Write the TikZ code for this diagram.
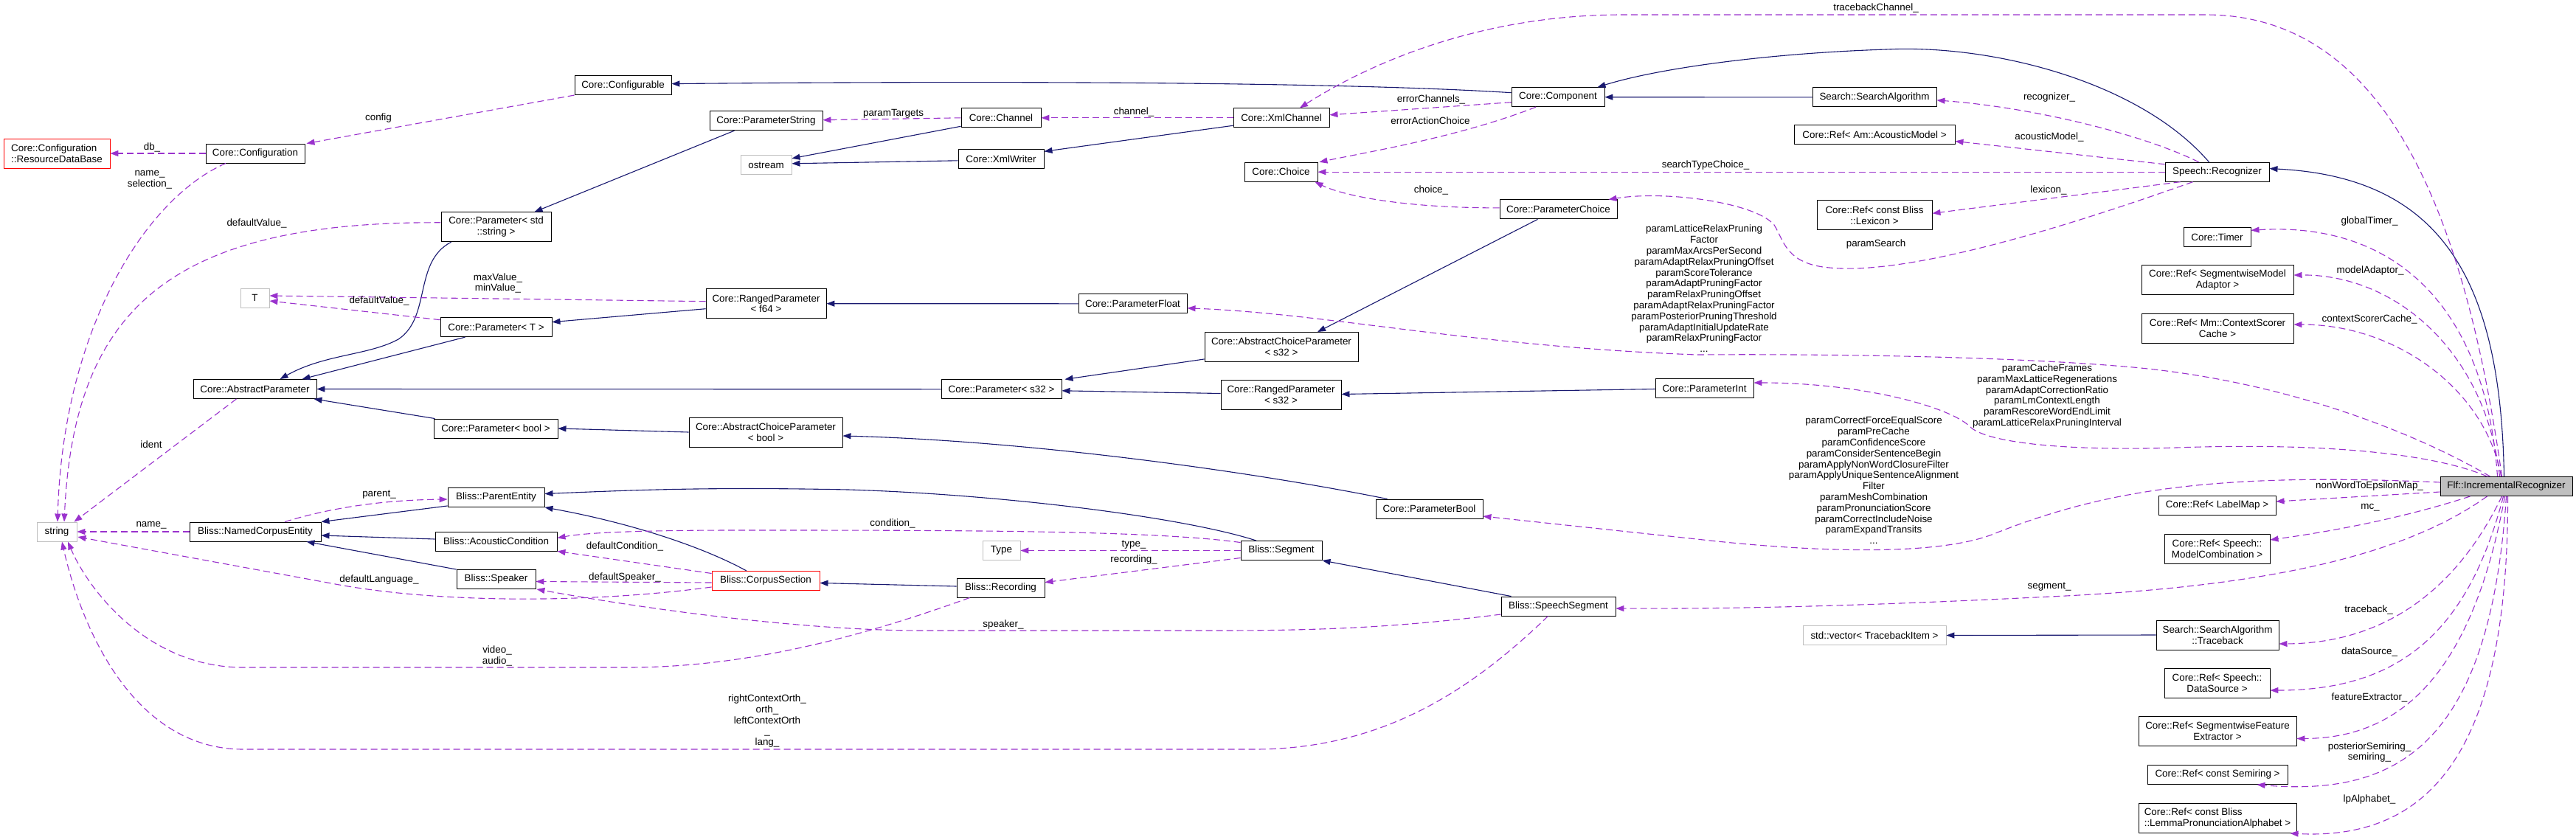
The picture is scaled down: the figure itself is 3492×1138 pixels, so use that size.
\documentclass[tikz,border=0pt]{standalone}
\usepackage{fontspec}
\setmainfont{Liberation Sans}
\usetikzlibrary{arrows.meta,calc}
\definecolor{inhc}{HTML}{191970}
\definecolor{usec}{HTML}{9A32CD}
\definecolor{extc}{HTML}{BFBFBF}
\newcommand\dxf{\fontsize{13.4}{14.8}\selectfont}
\begin{document}
\begin{tikzpicture}[x=1pt,y=-1pt,
 box/.style={draw=black,line width=0.9pt,fill=white,minimum height=26pt,inner sep=0pt,font=\dxf,align=center},
 ext/.style={box,draw=extc},
 redbox/.style={box,draw=red},
 two/.style={minimum height=40pt},
 lab/.style={font=\dxf,inner sep=0pt,align=center},
 inhedge/.style={draw=inhc,line width=1.1pt,-{Triangle[length=11pt,width=8pt]}},
 useedge/.style={draw=usec,line width=1.1pt,dash pattern=on 9pt off 5pt,-{Triangle[length=11pt,width=8pt]}},
]
\fill[white] (0,0) rectangle (3492,1138);
\useasboundingbox (0,0) rectangle (3492,1138);

% ---------- nodes ----------
\node[redbox,two,minimum width=144pt,align=left] (rdb) at (77,208) {Core::Configuration\\::ResourceDataBase};
\node[box,minimum width=134pt] (cfg) at (346,208) {Core::Configuration};
\node[box,minimum width=131pt] (cfgable) at (844.5,115.6) {Core::Configurable};
\node[box,minimum width=153pt] (pstr) at (1038.5,163.7) {Core::ParameterString};
\node[ext,minimum width=69pt] (ostream) at (1038.5,223.8) {ostream};
\node[box,two,minimum width=149pt] (pstd) at (672.5,307.8) {Core::Parameter< std\\::string >};
\node[ext,minimum width=39pt] (T) at (345.5,404) {T};
\node[box,two,minimum width=163pt] (rf64) at (1038.5,411.7) {Core::RangedParameter\\< f64 >};
\node[box,minimum width=151pt] (pT) at (672.5,443.7) {Core::Parameter< T >};
\node[box,minimum width=167pt] (absp) at (345.5,527.5) {Core::AbstractParameter};
\node[box,minimum width=168pt] (pbool) at (672,581) {Core::Parameter< bool >};
\node[box,two,minimum width=208pt] (acpbool) at (1038,586) {Core::AbstractChoiceParameter\\< bool >};
\node[box,minimum width=108pt] (channel) at (1357,159.8) {Core::Channel};
\node[box,minimum width=116pt] (xmlw) at (1357,215.8) {Core::XmlWriter};
\node[box,minimum width=130pt] (xmlch) at (1737,159.8) {Core::XmlChannel};
\node[box,minimum width=99pt] (choice) at (1736.5,233.2) {Core::Choice};
\node[box,minimum width=147pt] (pfloat) at (1535.5,411.8) {Core::ParameterFloat};
\node[box,two,minimum width=208pt] (acps32) at (1737,470.5) {Core::AbstractChoiceParameter\\< s32 >};
\node[box,minimum width=163pt] (ps32) at (1357.5,527.8) {Core::Parameter< s32 >};
\node[box,two,minimum width=163pt] (rs32) at (1736.5,535.5) {Core::RangedParameter\\< s32 >};
\node[box,minimum width=126pt] (comp) at (2112,131.7) {Core::Component};
\node[box,minimum width=159pt] (pchoice) at (2112.5,283.9) {Core::ParameterChoice};
\node[box,minimum width=133pt] (pint) at (2310.5,526.5) {Core::ParameterInt};
\node[box,minimum width=168pt] (salg) at (2541,131.9) {Search::SearchAlgorithm};
\node[box,minimum width=218pt] (refam) at (2541,182.5) {Core::Ref< Am::AcousticModel >};
\node[box,two,minimum width=156pt] (reflex) at (2541,291.9) {Core::Ref< const Bliss\\::Lexicon >};
\node[box,minimum width=141pt] (rec) at (3005.5,233.2) {Speech::Recognizer};
\node[box,minimum width=91pt] (timer) at (3005.5,321.3) {Core::Timer};
\node[box,two,minimum width=206pt] (refsma) at (3006,379.5) {Core::Ref< SegmentwiseModel\\Adaptor >};
\node[box,two,minimum width=206pt] (refcsc) at (3006,445) {Core::Ref< Mm::ContextScorer\\Cache >};
\node[ext,minimum width=54pt] (string) at (77,721) {string};
\node[box,minimum width=178pt] (nce) at (346,721) {Bliss::NamedCorpusEntity};
\node[box,minimum width=131pt] (parent) at (672.5,674.5) {Bliss::ParentEntity};
\node[box,minimum width=165pt] (acond) at (672.5,734) {Bliss::AcousticCondition};
\node[box,minimum width=107pt] (speaker) at (672.5,785.5) {Bliss::Speaker};
\node[redbox,minimum width=146pt] (corpus) at (1038,787.5) {Bliss::CorpusSection};
\node[ext,minimum width=51pt] (type) at (1357.5,746.5) {Type};
\node[box,minimum width=119pt] (recording) at (1356.5,797) {Bliss::Recording};
\node[box,minimum width=110pt] (segment) at (1737,746.5) {Bliss::Segment};
\node[box,minimum width=145pt] (pbool2) at (1937.5,690) {Core::ParameterBool};
\node[box,minimum width=155pt] (sseg) at (2112.5,822) {Bliss::SpeechSegment};
\node[ext,minimum width=194pt] (vec) at (2541,861.5) {std::vector< TracebackItem >};
\node[box,fill=extc,minimum width=179pt] (flf) at (3397.5,659.5) {Flf::IncrementalRecognizer};
\node[box,minimum width=159pt] (reflm) at (3005.5,685) {Core::Ref< LabelMap >};
\node[box,two,minimum width=143pt] (refmc) at (3005.5,744) {Core::Ref< Speech::\\ModelCombination >};
\node[box,two,minimum width=166pt] (tb) at (3006,861) {Search::SearchAlgorithm\\::Traceback};
\node[box,two,minimum width=143pt] (refds) at (3005.5,926.5) {Core::Ref< Speech::\\DataSource >};
\node[box,two,minimum width=214pt] (reffe) at (3006,991.5) {Core::Ref< SegmentwiseFeature\\Extractor >};
\node[box,minimum width=190pt] (refsr) at (3006,1050.5) {Core::Ref< const Semiring >};
\node[box,two,minimum width=214pt,align=left] (reflpa) at (3006,1109.5) {Core::Ref< const Bliss\\::LemmaPronunciationAlphabet >};

% ---------- inheritance edges ----------
\draw[inhedge] ($(comp.west)+(0,-6)$) .. controls (1800,110) and (1300,110) .. ($(cfgable.east)+(0,-2)$);
\draw[inhedge] ($(pstr.south)+(-43,0)$) -- ($(pstd.north)+(52,0)$);
\draw[inhedge] ($(channel.south west)+(0,-2)$) -- ($(ostream.east)+(0,-9)$);
\draw[inhedge] ($(xmlw.west)+(0,2)$) -- ($(ostream.east)+(0,-2)$);
\draw[inhedge] ($(xmlch.south west)+(0,-3)$) -- ($(xmlw.north east)+(0,3)$);
\draw[inhedge] ($(pstd.south west)+(14,0)$) .. controls (560,355) and (585,430) .. (540,460) .. controls (500,482) and (440,480) .. ($(absp.north)+(34,0)$);
\draw[inhedge] ($(rf64.west)+(0,7)$) -- ($(pT.east)+(0,-7)$);
\draw[inhedge] ($(pT.south)+(-42,0)$) -- ($(absp.north east)+(-20,0)$);
\draw[inhedge] (ps32.west) -- (absp.east);
\draw[inhedge] ($(pbool.north west)+(2,0)$) -- ($(absp.south east)+(-4,0)$);
\draw[inhedge] (acpbool.west) -- (pbool.east);
\draw[inhedge] ($(pbool2.north west)+(16,0)$) .. controls (1700,640) and (1400,598) .. ($(acpbool.east)+(0,5)$);
\draw[inhedge] (pfloat.west) -- (rf64.east);
\draw[inhedge] ($(pchoice.south)+(-28,0)$) -- ($(acps32.north)+(49,0)$);
\draw[inhedge] ($(acps32.south west)+(0,-4)$) -- ($(ps32.north east)+(4,0)$);
\draw[inhedge] ($(rs32.west)+(0,-2)$) -- ($(ps32.east)+(0,2)$);
\draw[inhedge] ($(pint.west)+(0,1)$) -- ($(rs32.east)+(0,-1)$);
\draw[inhedge] (salg.west) -- (comp.east);
\draw[inhedge] ($(rec.north)+(-11,0)$) .. controls (2900,110) and (2700,60) .. (2557,67) .. controls (2400,72) and (2250,92) .. ($(comp.north east)+(-10,0)$);
\draw[inhedge] ($(flf.north)+(-3,0)$) .. controls (3390,380) and (3310,240) .. ($(rec.east)+(0,-4.6)$);
\draw[inhedge] ($(recording.west)+(0,-2)$) -- ($(corpus.east)+(0,3)$);
\draw[inhedge] ($(corpus.north)+(-26,0)$) .. controls (950,740) and (850,708) .. (parent.south east);
\draw[inhedge] ($(segment.north)+(-34,0)$) .. controls (1600,700) and (1350,670) .. (1150,664) .. controls (950,660) and (850,665) .. ($(parent.east)+(0,-5)$);
\draw[inhedge] ($(parent.south west)+(0,-2)$) -- (nce.north east);
\draw[inhedge] ($(acond.west)+(0,-3)$) -- ($(nce.east)+(0,5)$);
\draw[inhedge] (speaker.north west) -- ($(nce.south east)+(-20,0)$);
\draw[inhedge] ($(sseg.north)+(-64,0)$) -- (segment.south east);
\draw[inhedge] (tb.west) -- (vec.east);

% ---------- usage edges ----------
\draw[useedge] (cfg.west) -- (rdb.east);
\draw[useedge] (cfgable.south west) -- ($(cfg.north east)+(2,0)$);
\draw[useedge] ($(cfg.south)+(-40,0)$) .. controls (195,270) and (85,450) .. ($(string.north)+(1,0)$);
\draw[useedge] ($(pstd.west)+(0,-6)$) .. controls (230,300) and (100,420) .. ($(string.north)+(10,0)$);
\draw[useedge] ($(absp.south)+(-25,0)$) -- ($(string.north east)+(-4,0)$);
\draw[useedge] ($(rf64.west)+(0,-3)$) -- ($(T.east)+(0,-3)$);
\draw[useedge] ($(pT.west)+(0,-10)$) -- ($(T.east)+(0,4)$);
\draw[useedge] (channel.west) -- ($(pstr.east)+(0,-1)$);
\draw[useedge] (xmlch.west) -- (channel.east);
\draw[useedge] ($(comp.west)+(0,7)$) -- ($(xmlch.east)+(0,-4)$);
\draw[useedge] ($(comp.south)+(-30,0)$) .. controls (1980,185) and (1860,205) .. ($(choice.north east)+(2,0)$);
\draw[useedge] ($(flf.north)+(-6,0)$) .. controls (3340,280) and (3230,20) .. (2990,20) -- (2200,20) .. controls (2000,20) and (1850,90) .. ($(xmlch.north)+(25,0)$);
\draw[useedge] (rec.west) -- (choice.east);
\draw[useedge] ($(pchoice.west)+(0,-2)$) .. controls (1900,282) and (1820,265) .. ($(choice.south east)+(-4,0)$);
\draw[useedge] ($(rec.south west)+(38,0)$) .. controls (2850,290) and (2600,375) .. (2480,363) .. controls (2420,358) and (2418,325) .. (2405,305) .. controls (2380,275) and (2260,258) .. ($(pchoice.north east)+(-12,0)$);
\draw[useedge] ($(flf.north west)+(68,0)$) .. controls (3280,590) and (3100,515) .. (2880,497) .. controls (2700,482) and (2450,480) .. (2300,481) .. controls (2000,470) and (1800,425) .. ($(pfloat.east)+(0,6)$);
\draw[useedge] ($(flf.north west)+(64,0)$) .. controls (3300,615) and (3150,600) .. (2950,607) .. controls (2800,612) and (2690,600) .. (2670,578) .. controls (2640,550) and (2520,519) .. ($(pint.east)+(0,-7.5)$);
\draw[useedge] ($(flf.west)+(0,-5.5)$) .. controls (3000,640) and (2850,665) .. (2700,725) .. controls (2620,755) and (2450,748) .. (2300,731) -- ($(pbool2.east)+(0,10)$);
\draw[useedge] ($(flf.south west)+(64,0)$) .. controls (3250,760) and (3050,795) .. (2800,808) .. controls (2600,818) and (2400,826) .. ($(sseg.east)+(0,3)$);
\draw[useedge] ($(flf.west)+(0,7.5)$) -- ($(reflm.east)+(0,-5)$);
\draw[useedge] ($(flf.south west)+(41,0)$) .. controls (3250,705) and (3150,722) .. ($(refmc.east)+(0,-12)$);
\draw[useedge] ($(flf.south)+(-6,0)$) .. controls (3340,780) and (3250,872) .. ($(tb.east)+(0,12)$);
\draw[useedge] ($(flf.south)+(-4,0)$) .. controls (3345,860) and (3250,936) .. ($(refds.east)+(0,9.5)$);
\draw[useedge] ($(flf.south)+(-2,0)$) .. controls (3350,920) and (3250,1001) .. ($(reffe.east)+(0,10)$);
\draw[useedge] (flf.south) .. controls (3375,1010) and (3250,1080) .. ($(refsr.south east)+(-42,0)$);
\draw[useedge] ($(flf.south)+(2,0)$) .. controls (3400,1010) and (3300,1140) .. ($(reflpa.south east)+(-9,0)$);
\draw[useedge] ($(flf.north)+(-12,0)$) .. controls (3370,420) and (3250,300) .. ($(timer.east)+(0,-9)$);
\draw[useedge] ($(flf.north)+(-9,0)$) .. controls (3370,480) and (3250,372) .. ($(refsma.east)+(0,-6.5)$);
\draw[useedge] ($(flf.north)+(-7,0)$) .. controls (3370,530) and (3250,440) .. ($(refcsc.east)+(0,-5)$);
\draw[useedge] ($(rec.north west)+(46,0)$) .. controls (2900,180) and (2750,145) .. ($(salg.east)+(0,4)$);
\draw[useedge] ($(rec.north west)+(0,3)$) -- ($(refam.east)+(0,9)$);
\draw[useedge] ($(rec.south west)+(21,0)$) -- ($(reflex.east)+(0,-2.6)$);
\draw[useedge] ($(nce.north)+(40,0)$) .. controls (450,688) and (520,678) .. ($(parent.west)+(0,2.5)$);
\draw[useedge] (nce.west) -- (string.east);
\draw[useedge] ($(corpus.west)+(0,8.5)$) .. controls (800,818) and (600,818) .. (460,793) -- ($(string.east)+(1,7)$);
\draw[useedge] ($(corpus.west)+(0,-10)$) -- (acond.south east);
\draw[useedge] ($(corpus.west)+(0,2.5)$) -- ($(speaker.east)+(0,3)$);
\draw[useedge] ($(segment.north west)+(0,2.5)$) .. controls (1560,719) and (1300,719) .. (1000,719) .. controls (850,719) and (790,723) .. ($(acond.east)+(0,-4.5)$);
\draw[useedge] (segment.west) -- (type.east);
\draw[useedge] ($(segment.west)+(0,10)$) -- ($(recording.east)+(0,-7.4)$);
\draw[useedge] ($(recording.south west)+(18,0)$) .. controls (1150,870) and (1000,905) .. (850,905) -- (330,905) .. controls (200,905) and (120,800) .. ($(string.south)+(15,0)$);
\draw[useedge] ($(sseg.west)+(0,11)$) .. controls (1900,850) and (1800,855) .. (1650,855) -- (1250,855) .. controls (1100,855) and (900,830) .. ($(speaker.south east)+(1,0)$);
\draw[useedge] ($(sseg.south)+(-14,0)$) .. controls (2000,930) and (1880,1016) .. (1700,1016) -- (330,1016) .. controls (180,1016) and (110,850) .. ($(string.south)+(7,0)$);

% ---------- labels ----------
\node[lab] (l1) at (206,200) {db\_};
\node[lab] (l2) at (513,160) {config};
\node[lab] (l3) at (203,244) {name\_\\selection\_};
\node[lab] (l4) at (348,302.6) {defaultValue\_};
\node[lab] (l5) at (675,384) {maxValue\_\\minValue\_};
\node[lab] (l6) at (514,408) {defaultValue\_};
\node[lab] (l7) at (205,603) {ident};
\node[lab] (l8) at (1211,154.6) {paramTargets};
\node[lab] (l9) at (1537,151.7) {channel\_};
\node[lab] (l10) at (1940,134.6) {errorChannels\_};
\node[lab] (l11) at (1939,164.2) {errorActionChoice};
\node[lab] (l12) at (2543,11) {tracebackChannel\_};
\node[lab] (l13) at (2312,224.5) {searchTypeChoice\_};
\node[lab] (l14) at (1940,258.2) {choice\_};
\node[lab] (l15) at (2310,391.5) {paramLatticeRelaxPruning\\Factor\\paramMaxArcsPerSecond\\paramAdaptRelaxPruningOffset\\paramScoreTolerance\\paramAdaptPruningFactor\\paramRelaxPruningOffset\\paramAdaptRelaxPruningFactor\\paramPosteriorPruningThreshold\\paramAdaptInitialUpdateRate\\paramRelaxPruningFactor\\...};
\node[lab] (l16) at (2778,132.4) {recognizer\_};
\node[lab] (l17) at (2778,186.4) {acousticModel\_};
\node[lab] (l18) at (2777,258.2) {lexicon\_};
\node[lab] (l19) at (2543,331.4) {paramSearch};
\node[lab] (l20) at (2775,537) {paramCacheFrames\\paramMaxLatticeRegenerations\\paramAdaptCorrectionRatio\\paramLmContextLength\\paramRescoreWordEndLimit\\paramLatticeRelaxPruningInterval};
\node[lab] (l21) at (2540,651.5) {paramCorrectForceEqualScore\\paramPreCache\\paramConfidenceScore\\paramConsiderSentenceBegin\\paramApplyNonWordClosureFilter\\paramApplyUniqueSentenceAlignment\\Filter\\paramMeshCombination\\paramPronunciationScore\\paramCorrectIncludeNoise\\paramExpandTransits\\...};
\node[lab] (l22) at (3212,300.4) {globalTimer\_};
\node[lab] (l23) at (3213,367) {modelAdaptor\_};
\node[lab] (l24) at (3212,432.8) {contextScorerCache\_};
\node[lab] (l25) at (2778,796) {segment\_};
\node[lab] (l26) at (3212,659.5) {nonWordToEpsilonMap\_};
\node[lab] (l27) at (3213,688) {mc\_};
\node[lab] (l28) at (3211,827) {traceback\_};
\node[lab] (l29) at (3212,884) {dataSource\_};
\node[lab] (l30) at (3212,946) {featureExtractor\_};
\node[lab] (l31) at (3212,1020) {posteriorSemiring\_\\semiring\_};
\node[lab] (l32) at (3212,1084.5) {lpAlphabet\_};
\node[lab] (l33) at (514,670.6) {parent\_};
\node[lab] (l34) at (205,712) {name\_};
\node[lab] (l35) at (514,786) {defaultLanguage\_};
\node[lab] (l36) at (847,740.6) {defaultCondition\_};
\node[lab] (l37) at (847,782.6) {defaultSpeaker\_};
\node[lab] (l38) at (1210,710) {condition\_};
\node[lab] (l39) at (1537,739) {type\_};
\node[lab] (l40) at (1537,759) {recording\_};
\node[lab] (l41) at (1360,847) {speaker\_};
\node[lab] (l42) at (674,889.5) {video\_\\audio\_};
\node[lab] (l43) at (1040,977.6) {rightContextOrth\_\\orth\_\\leftContextOrth\\\_\\lang\_};
\end{tikzpicture}
\end{document}
